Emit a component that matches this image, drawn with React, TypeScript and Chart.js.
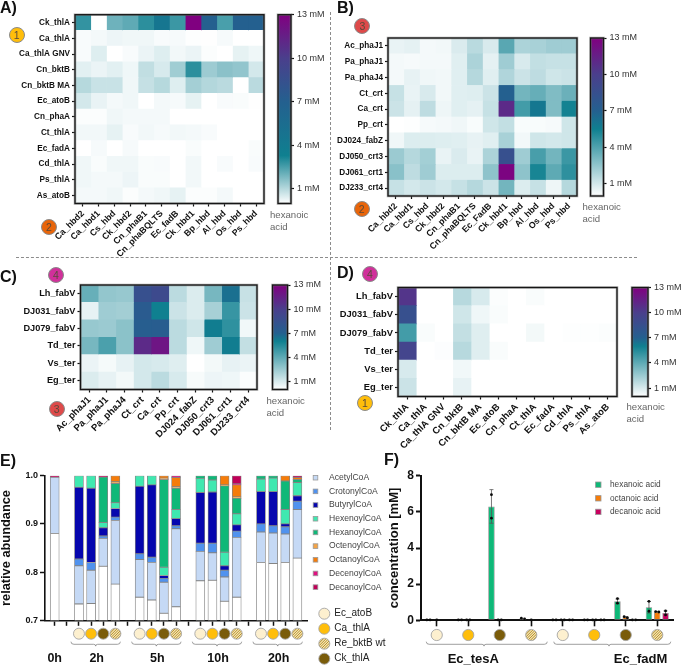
import React, { useEffect, useRef } from "react";
import { Chart, registerables } from "chart.js";

Chart.register(...registerables);

const FONT = '"Liberation Sans", Arial, Helvetica, sans-serif';
const W = 685;
const H = 665;

// ---------- heat map labels ----------
const enzymes1 = ["Ck_thlA", "Ca_thlA", "Ca_thlA GNV", "Cn_bktB", "Cn_bktB MA", "Ec_atoB", "Cn_phaA", "Ct_thlA", "Ec_fadA", "Cd_thlA", "Ps_thlA", "As_atoB"];
const enzymes2A = ["Ca_hbd2", "Ca_hbd1", "Cs_hbd", "Ck_hbd2", "Cn_phaB1", "Cn_phaBQLTS", "Ec_fadB", "Ck_hbd1", "Bp_hbd", "Al_hbd", "Os_hbd", "Ps_hbd"];
const enzymes2B = ["Ca_hbd2", "Ca_hbd1", "Cs_hbd", "Ck_hbd2", "Cn_phaB1", "Cn_phaBQLTS", "Ec_FadB", "Ck_hbd1", "Bp_hbd", "Al_hbd", "Os_hbd", "Ps_hbd"];
const enzymes3 = ["Ac_phaJ1", "Pa_phaJ1", "Pa_phaJ4", "Ct_crt", "Ca_crt", "Pp_crt", "DJ024_fabZ", "DJ050_crt3", "DJ061_crt1", "DJ233_crt4"];
const enzymes4 = ["Lh_fabV", "DJ031_fabV", "DJ079_fabV", "Td_ter", "Vs_ter", "Eg_ter"];

// ---------- heat map values (mM hexanoic acid) ----------
const valuesA = [
  [2.8, 0, 2.0, 2.2, 2.9, 4.5, 2.7, 13, 7, 2.5, 7, 7],
  [0.1, 0.15, 0.25, 0.2, 0.2, 0.1, 0.12, 0.03, 0.02, 0.12, 0, 0],
  [0.1, 0.45, 0, 0.1, 0.28, 0.45, 0.18, 0.28, 0.05, 0, 0.35, 0.22],
  [0.4, 0.28, 0.4, 0.22, 0.85, 0.55, 1.3, 2.9, 1.35, 1.6, 1.5, 0.6],
  [1.0, 0.75, 0.75, 0.2, 0.8, 1.0, 0.45, 1.25, 1.05, 0.95, 0, 0.95],
  [0.6, 0.3, 0.15, 0.2, 0, 0.15, 0.12, 0.35, 0, 0.1, 0.08, 0.02],
  [0.06, 0.06, 0.2, 0.15, 0.15, 0.15, 0, 0, 0, 0, 0, 0],
  [0.18, 0.18, 0.35, 0.1, 0.18, 0.12, 0.18, 0.15, 0.1, 0, 0, 0],
  [0, 0.12, 0, 0.12, 0, 0, 0, 0.08, 0, 0, 0, 0.08],
  [0.2, 0.08, 0.2, 0.2, 0.08, 0.1, 0, 0.18, 0, 0.1, 0, 0.1],
  [0.2, 0.15, 0.15, 0.25, 0.08, 0.08, 0, 0.18, 0, 0, 0, 0],
  [0.15, 0.15, 0.2, 0.05, 0.15, 0.2, 0.35, 0.06, 0.06, 0.15, 0, 0],
];
const valuesB = [
  [0.5, 0.6, 0.25, 0.3, 0.85, 1.6, 0.9, 3.8, 1.9, 2.0, 2.2, 2.2],
  [0.25, 0.2, 0.25, 0.25, 0.7, 1.9, 0.6, 2.2, 0.9, 1.4, 1.3, 1.3],
  [0.25, 0.55, 0.35, 0.3, 0.7, 1.7, 0.7, 1.8, 1.2, 1.5, 1.1, 1.2],
  [1.3, 0.5, 0.9, 0.3, 0.7, 0.75, 1.2, 7, 3.2, 3.5, 2.9, 3.4],
  [1.2, 0.6, 1.5, 0.4, 0.7, 0.6, 1.3, 11, 4.3, 5.9, 2.9, 5.4],
  [0, 0.05, 0.2, 0.25, 0.35, 0.15, 1.1, 1.4, 0.15, 0.15, 0.2, 1.1],
  [0.35, 0.8, 0.8, 0.75, 0.7, 0.55, 0.7, 2.0, 0.3, 1.1, 1.0, 1.1],
  [2.3, 1.7, 2.1, 0.5, 0.85, 0.5, 1.9, 8.5, 2.2, 4.2, 3.2, 4.5],
  [2.7, 1.5, 2.2, 0.8, 0.8, 0.8, 2.6, 12.8, 2.6, 5.3, 3.7, 4.8],
  [1.3, 1.0, 1.2, 1.0, 1.3, 1.7, 1.2, 3.2, 0.8, 1.3, 0.4, 1.7],
];
const valuesC = [
  [3.8, 2.7, 2.6, 8.5, 9, 1.7, 0.9, 3.4, 6.5, 1.4],
  [0.6, 2.4, 2.3, 7.5, 6, 1.3, 0.9, 2.2, 5, 1.3],
  [2.6, 2.5, 2.9, 7.2, 7.3, 1.7, 1.2, 6.1, 5.2, 0.35],
  [3.4, 4.5, 2.9, 11, 12, 1.7, 0.4, 2.4, 6.1, 1.5],
  [0.5, 0.25, 0.6, 1.1, 1.0, 0.8, 0, 0.3, 0.6, 0.5],
  [0.9, 0.6, 0.3, 1.1, 1.7, 1.0, 0.2, 0.45, 0.4, 0.1],
];
const valuesD = [
  [10.5, 0, 0, 1.8, 1.0, 0.1, 0, 0.15, 0, 0, 0, 0],
  [8.5, 0, 0, 1.2, 0.4, 0.15, 0, 0, 0, 0, 0, 0],
  [4.7, 0.15, 0, 1.5, 0.8, 0, 0, 0.3, 0, 0.05, 0.05, 0.1],
  [9.5, 0, 0.08, 1.8, 0.8, 0.15, 0, 0, 0, 0, 0, 0],
  [1, 0, 0, 0.35, 0, 0, 0, 0, 0, 0, 0, 0],
  [1.3, 0, 0, 0.6, 0, 0, 0, 0, 0, 0, 0, 0],
];
const colorbarTicks = [1, 4, 7, 10, 13];

// ---------- panel E ----------
const barSlots = [0, 2, 3, 4, 5, 7, 8, 9, 10, 12, 13, 14, 15, 17, 18, 19, 20];
const allSlots = [0, 1, 2, 3, 4, 5, 6, 7, 8, 9, 10, 11, 12, 13, 14, 15, 16, 17, 18, 19, 20];
const timeGroups = [
  { label: "2h", first: 2, last: 5 },
  { label: "5h", first: 7, last: 10 },
  { label: "10h", first: 12, last: 15 },
  { label: "20h", first: 17, last: 20 },
];
// cumulative top of each species in each bar
const topOther = [0.88, 0.734, 0.735, 0.812, 0.775, 0.748, 0.742, 0.7145, 0.728, 0.782, 0.783, 0.7395, 0.748, 0.82, 0.818, 0.82, 0.829];
const topAcetyl = [0.9965, 0.813, 0.804, 0.87, 0.907, 0.826, 0.82, 0.779, 0.89, 0.843, 0.84, 0.79, 0.872, 0.883, 0.881, 0.879, 0.93];
const topCrotonyl = [0.9965, 0.827, 0.82, 0.875, 0.914, 0.838, 0.831, 0.787, 0.896, 0.86, 0.86, 0.804, 0.885, 0.9, 0.896, 0.894, 0.947];
const topButyryl = [0.9965, 0.976, 0.974, 0.892, 0.932, 0.978, 0.981, 0.793, 0.911, 0.965, 0.966, 0.813, 0.898, 0.967, 0.967, 0.9, 0.9585];
const topHexenoyl = [0.9965, 1, 1, 0.903, 0.944, 1, 1, 0.81, 0.93, 0.9945, 0.991, 0.841, 0.921, 0.993, 0.995, 0.93, 0.986];
const topHexanoyl = [0.9965, 1, 1, 0.997, 0.984, 1, 1, 0.992, 0.974, 1, 1, 0.979, 0.953, 1, 1, 0.989, 0.992];
const topOctenoyl = [0.9965, 1, 1, 0.997, 0.9875, 1, 1, 0.995, 0.977, 1, 1, 0.981, 0.956, 1, 1, 0.989, 0.992];
const topOctanoyl = [0.9965, 1, 1, 0.997, 1, 1, 1, 1, 0.996, 1, 1, 1, 0.981, 1, 1, 1, 0.996];
const topDecenoyl = [0.9965, 1, 1, 0.997, 1, 1, 1, 1, 1, 1, 1, 1, 0.983, 1, 1, 1, 0.996];
const topDecanoyl = [1, 1, 1, 1, 1, 1, 1, 1, 1, 1, 1, 1, 1, 1, 1, 1, 1];
const coaNames = ["AcetylCoA", "CrotonylCoA", "ButyrylCoA", "HexenoylCoA", "HexanoylCoA", "OctenoylCoA", "OctanoylCoA", "DecenoylCoA", "DecanoylCoA"];
const coaTops = [topAcetyl, topCrotonyl, topButyryl, topHexenoyl, topHexanoyl, topOctenoyl, topOctanoyl, topDecenoyl, topDecanoyl];
const coaColors = ["#c5d9f5", "#5092ee", "#0606ae", "#3fe8b0", "#0fb878", "#f5a445", "#f57c0a", "#e01080", "#c00058"];
const abundanceTicks = [0.7, 0.8, 0.9, 1.0];
const strainNames = ["Ec_atoB", "Ca_thlA", "Re_bktB wt", "Ck_thlA"];
const strainOrder = ["Ec_atoB", "Ca_thlA", "Ck_thlA", "Re_bktB wt"];

// ---------- panel F ----------
const acidCategories = ["tesA Ec_atoB", "tesA Ca_thlA", "tesA Ck_thlA", "tesA Re_bktB", "fadM Ec_atoB", "fadM Ca_thlA", "fadM Ck_thlA", "fadM Re_bktB"];
const hexanoic = [0.03, 0.03, 6.3, 0.1, 0.02, 0.02, 1.05, 0.72];
const octanoic = [0.02, 0.02, 0.03, 0.02, 0.02, 0.02, 0.17, 0.47];
const decanoic = [0, 0, 0, 0, 0.02, 0.02, 0.03, 0.41];
const hexanoicError = [0, 0, 0.93, 0, 0, 0, 0.13, 0.32];
const octanoicError = [0, 0, 0, 0, 0, 0, 0.03, 0.01];
const decanoicError = [0, 0, 0, 0, 0, 0, 0.01, 0.11];
const hexanoicReps = [[0.02, 0.02], [0.02, 0.02], [6.95, 5.65], [0.12, 0.08], [0.02, 0.02], [0.02, 0.02], [1.2, 0.95], [1.05, 0.5]];
const octanoicReps = [[0.02], [0.02, 0.02], [0.02, 0.02], [0.02], [0.02, 0.02], [0.02, 0.02], [0.2, 0.14], [0.48, 0.46]];
const decanoicReps = [[], [], [], [], [0.02, 0.02], [0.02, 0.02], [0.02, 0.02], [0.52, 0.3]];
const acidTicks = [0, 2, 4, 6, 8];

// ---------- colour map ----------
type RGB = [number, number, number];
function stopsFor(teal: number): [number, RGB][] {
  return [
    [0, [255, 255, 255]],
    [teal, [15, 128, 144]],
    [7, [36, 96, 143]],
    [10, [74, 63, 140]],
    [13, [128, 0, 128]],
  ];
}
function colorAt(v: number, teal: number): string {
  const s = stopsFor(teal);
  for (let i = 1; i < s.length; i++) {
    if (v <= s[i][0]) {
      const f = (v - s[i - 1][0]) / (s[i][0] - s[i - 1][0]);
      const c = s[i - 1][1].map((a, k) => Math.round(a + (s[i][1][k] - a) * f));
      return `rgb(${c[0]},${c[1]},${c[2]})`;
    }
  }
  return "rgb(128,0,128)";
}

type Box = { l: number; t: number; r: number; b: number };
const setWidth = (w: number) => (s: any) => { s.width = w; };
const setHeight = (h: number) => (s: any) => { s.height = h; };
const tickGrid = (len: number, w: number) => ({
  display: true, drawOnChartArea: false, drawTicks: true, tickLength: len, tickWidth: w, tickColor: "#111", offset: false,
});

const framePlugin = {
  id: "frame",
  afterDatasetsDraw(chart: any) {
    const { ctx, chartArea: a } = chart;
    ctx.save();
    ctx.strokeStyle = "rgba(120,120,120,0.55)";
    ctx.lineWidth = 2.6;
    ctx.strokeRect(a.left, a.top, a.right - a.left, a.bottom - a.top);
    ctx.strokeStyle = "#161616";
    ctx.lineWidth = 1.3;
    ctx.strokeRect(a.left, a.top, a.right - a.left, a.bottom - a.top);
    ctx.restore();
  },
};

function heatConfig(rows: string[], cols: string[], values: number[][], teal: number, box: Box, fontY: number, fontX: number): any {
  return {
    type: "bar",
    data: {
      labels: rows,
      datasets: cols.map((name, c) => ({
        label: name,
        data: rows.map(() => [c, c + 1]),
        backgroundColor: rows.map((_, r) => colorAt(values[r][c], teal)),
        borderWidth: 0,
        barPercentage: 1,
        categoryPercentage: 1,
        grouped: false,
      })),
    },
    options: {
      indexAxis: "y",
      responsive: false,
      animation: false,
      layout: { padding: { left: 0, top: box.t, right: W - box.r, bottom: 0 } },
      plugins: { legend: { display: false }, tooltip: { enabled: false } },
      scales: {
        y: {
          type: "category",
          offset: true,
          afterFit: setWidth(box.l),
          grid: tickGrid(3, 1.2),
          border: { display: false },
          ticks: { autoSkip: false, padding: 2, color: "#111", font: { family: FONT, size: fontY, weight: "bold" } },
        },
        x: {
          type: "linear",
          offset: false,
          min: 0,
          max: cols.length,
          afterFit: setHeight(H - box.b),
          afterBuildTicks: (s: any) => { s.ticks = cols.map((_, i) => ({ value: i + 0.5 })); },
          grid: tickGrid(3, 1.2),
          border: { display: false },
          ticks: {
            autoSkip: false, minRotation: 45, maxRotation: 45, padding: 2, color: "#111",
            font: { family: FONT, size: fontX, weight: "bold" },
            callback: (v: number) => cols[Math.round(v - 0.5)],
          },
        },
      },
    },
    plugins: [framePlugin],
  };
}

function colorbarConfig(teal: number, box: Box): any {
  return {
    type: "bar",
    data: {
      labels: ["hexanoic acid"],
      datasets: [{
        label: "scale",
        data: [[0, 13]],
        barPercentage: 1,
        categoryPercentage: 1,
        borderWidth: 0,
        backgroundColor: (c: any) => {
          const a = c.chart.chartArea;
          if (!a) return "#fff";
          const g = c.chart.ctx.createLinearGradient(0, a.bottom, 0, a.top);
          stopsFor(teal).forEach(([v, col]) => g.addColorStop(v / 13, `rgb(${col[0]},${col[1]},${col[2]})`));
          return g;
        },
      }],
    },
    options: {
      responsive: false,
      animation: false,
      layout: { padding: { left: box.l, top: box.t, right: 0, bottom: H - box.b } },
      plugins: { legend: { display: false }, tooltip: { enabled: false } },
      scales: {
        x: { display: false },
        y: {
          position: "right",
          min: 0,
          max: 13,
          afterFit: setWidth(W - box.r),
          afterBuildTicks: (s: any) => { s.ticks = colorbarTicks.map((value) => ({ value })); },
          grid: tickGrid(3, 1.2),
          border: { display: false },
          ticks: { padding: 3, color: "#333", font: { family: FONT, size: 9 }, callback: (v: number) => `${v} mM` },
        },
      },
    },
    plugins: [framePlugin],
  };
}

// ---------- strain markers ----------
const strainFill: Record<string, string> = { "Ec_atoB": "#fdf0cf", "Ca_thlA": "#ffbe0b", "Ck_thlA": "#7a5c0a", "Re_bktB wt": "#f4e4b4" };
function drawMarker(ctx: CanvasRenderingContext2D, x: number, y: number, r: number, strain: string) {
  ctx.save();
  ctx.beginPath();
  ctx.arc(x, y, r, 0, Math.PI * 2);
  ctx.fillStyle = strainFill[strain];
  ctx.fill();
  if (strain === "Re_bktB wt") {
    ctx.save();
    ctx.clip();
    ctx.strokeStyle = "#b8912a";
    ctx.lineWidth = 1;
    for (let d = -2 * r; d <= 2 * r; d += 2.6) {
      ctx.beginPath();
      ctx.moveTo(x + d - r, y + r);
      ctx.lineTo(x + d + r, y - r);
      ctx.stroke();
    }
    ctx.restore();
    ctx.beginPath();
    ctx.arc(x, y, r, 0, Math.PI * 2);
  }
  ctx.strokeStyle = "#a5a5a5";
  ctx.lineWidth = 0.9;
  ctx.stroke();
  ctx.restore();
}
function drawBrace(ctx: CanvasRenderingContext2D, x0: number, x1: number, mid: number, y: number) {
  ctx.save();
  ctx.strokeStyle = "#777";
  ctx.lineWidth = 0.7;
  ctx.beginPath();
  ctx.moveTo(x0, y);
  ctx.quadraticCurveTo(x0, y + 2.6, x0 + 3, y + 2.6);
  ctx.lineTo(mid - 2, y + 2.6);
  ctx.quadraticCurveTo(mid, y + 2.6, mid, y + 4.4);
  ctx.quadraticCurveTo(mid, y + 2.6, mid + 2, y + 2.6);
  ctx.lineTo(x1 - 3, y + 2.6);
  ctx.quadraticCurveTo(x1, y + 2.6, x1, y);
  ctx.stroke();
  ctx.restore();
}
function drawLabel(ctx: CanvasRenderingContext2D, t: string, x: number, y: number, font: string, color: string, align: CanvasTextAlign = "center") {
  ctx.save();
  ctx.font = font;
  ctx.fillStyle = color;
  ctx.textAlign = align;
  ctx.textBaseline = "middle";
  ctx.fillText(t, x, y);
  ctx.restore();
}
function drawSwatchLegend(ctx: CanvasRenderingContext2D, items: { label: string; color: string }[], sx: number, tx: number, y0: number, dy: number, size: number, fs: number) {
  items.forEach((it, i) => {
    const y = y0 + i * dy;
    ctx.save();
    ctx.fillStyle = it.color;
    ctx.strokeStyle = "#999";
    ctx.lineWidth = 0.8;
    ctx.fillRect(sx - size / 2, y - size / 2, size, size);
    ctx.strokeRect(sx - size / 2, y - size / 2, size, size);
    ctx.restore();
    drawLabel(ctx, it.label, tx, y, `${fs}px ${FONT}`, "#444", "left");
  });
}

const panelEPlugin = {
  id: "panelE",
  afterDraw(chart: any) {
    const { ctx, scales } = chart;
    const x = scales.x;
    drawLabel(ctx, "0h", x.getPixelForValue(0), 659, `bold 12.5px ${FONT}`, "#111");
    timeGroups.forEach((g) => {
      strainOrder.forEach((s, i) => drawMarker(ctx, x.getPixelForValue(g.first + i), 633.7, 5.5, s));
      const a = x.getPixelForValue(g.first);
      const b = x.getPixelForValue(g.last);
      drawBrace(ctx, a - 8, b + 5, (a + b) / 2 - 1.5, 641.7);
      drawLabel(ctx, g.label, (a + b) / 2 - 0.5, 659, `bold 12.5px ${FONT}`, "#111");
    });
    drawSwatchLegend(ctx, coaNames.map((label, i) => ({ label, color: coaColors[i] })), 315.5, 329, 477.7, 13.68, 4.6, 8.6);
    strainNames.forEach((s, i) => {
      drawMarker(ctx, 324.3, 613.7 + i * 15, 5.5, s);
      drawLabel(ctx, s, 334.3, 613.7 + i * 15, `10px ${FONT}`, "#222", "left");
    });
  },
};

const panelFPlugin = {
  id: "panelF",
  afterDatasetsDraw(chart: any) {
    const { ctx, scales } = chart;
    const y = scales.y;
    chart.data.datasets.forEach((ds: any, di: number) => {
      const meta = chart.getDatasetMeta(di);
      meta.data.forEach((bar: any, i: number) => {
        const err = ds.errors[i];
        if (err > 0) {
          const hi = y.getPixelForValue(ds.data[i] + err);
          const lo = y.getPixelForValue(ds.data[i] - err);
          ctx.save();
          ctx.strokeStyle = "#555";
          ctx.lineWidth = 0.8;
          ctx.beginPath();
          ctx.moveTo(bar.x, hi); ctx.lineTo(bar.x, lo);
          ctx.moveTo(bar.x - 2, hi); ctx.lineTo(bar.x + 2, hi);
          ctx.moveTo(bar.x - 2, lo); ctx.lineTo(bar.x + 2, lo);
          ctx.stroke();
          ctx.restore();
        }
        const reps: number[] = ds.replicates[i];
        const close = reps.length === 2 && Math.abs(y.getPixelForValue(reps[0]) - y.getPixelForValue(reps[1])) < 2.5;
        reps.forEach((v, k) => {
          ctx.save();
          ctx.fillStyle = "#0a0a0a";
          ctx.beginPath();
          ctx.arc(bar.x + (close ? (k === 0 ? -1.6 : 1.6) : 0), y.getPixelForValue(v), 1.4, 0, Math.PI * 2);
          ctx.fill();
          ctx.restore();
        });
      });
    });
  },
  afterDraw(chart: any) {
    const { ctx, scales } = chart;
    const x = scales.x;
    acidCategories.forEach((_, i) => drawMarker(ctx, x.getPixelForValue(i), 635, 5.6, strainOrder[i % 4]));
    drawBrace(ctx, x.getPixelForValue(0) - 10.5, x.getPixelForValue(3) + 16, x.getPixelForValue(1.5), 641.7);
    drawBrace(ctx, x.getPixelForValue(4) - 9, x.getPixelForValue(7) + 13.5, x.getPixelForValue(5.5) - 1, 641.7);
    drawLabel(ctx, "Ec_tesA", 473.3, 659, `bold 13px ${FONT}`, "#111");
    drawLabel(ctx, "Ec_fadM", 640.5, 659, `bold 13px ${FONT}`, "#111");
    drawSwatchLegend(ctx, chart.data.datasets.map((d: any) => ({ label: d.label, color: d.backgroundColor })), 598.3, 610, 484.7, 13.6, 5.4, 8.3);
  },
};

function abundanceConfig(): any {
  const tops = [topOther, ...coaTops];
  const names = ["Remainder", ...coaNames];
  const colors = ["#ffffff", ...coaColors];
  return {
    type: "bar",
    data: {
      labels: barSlots,
      datasets: tops.map((top, s) => ({
        label: names[s],
        data: top.map((t, b) => {
          const lo = s === 0 ? 0 : tops[s - 1][b];
          return t > lo ? [lo, t] : null;
        }),
        backgroundColor: colors[s],
        borderColor: "#858585",
        borderWidth: 0.8,
        borderSkipped: false,
        barThickness: 9,
        grouped: false,
      })),
    },
    options: {
      responsive: false,
      animation: false,
      layout: { padding: { left: 0, top: 475.7, right: W - 307.7, bottom: 0 } },
      plugins: { legend: { display: false }, tooltip: { enabled: false } },
      scales: {
        x: {
          type: "linear",
          offset: false,
          min: -0.8,
          max: 20.85,
          afterFit: setHeight(H - 620.3),
          afterBuildTicks: (s: any) => { s.ticks = allSlots.map((value) => ({ value })); },
          grid: tickGrid(5.5, 1.5),
          border: { display: true, color: "#111", width: 1.6 },
          ticks: { display: false },
        },
        y: {
          min: 0.7,
          max: 1.0,
          afterFit: setWidth(45),
          afterBuildTicks: (s: any) => { s.ticks = abundanceTicks.map((value) => ({ value })); },
          grid: tickGrid(5, 1.5),
          border: { display: true, color: "#111", width: 1.6 },
          title: { display: true, text: "relative abundance", color: "#111", padding: 0, font: { family: FONT, size: 12.8, weight: "bold", lineHeight: 1 } },
          ticks: { padding: 2, color: "#111", font: { family: FONT, size: 9, weight: "bold" }, callback: (v: number) => v.toFixed(1) },
        },
      },
    },
    plugins: [panelEPlugin],
  };
}

function acidConfig(): any {
  const series = [
    { label: "hexanoic acid", data: hexanoic, errors: hexanoicError, replicates: hexanoicReps, backgroundColor: "#0fb878" },
    { label: "octanoic acid", data: octanoic, errors: octanoicError, replicates: octanoicReps, backgroundColor: "#f57c0a" },
    { label: "decanoic acid", data: decanoic, errors: decanoicError, replicates: decanoicReps, backgroundColor: "#c8005f" },
  ];
  return {
    type: "bar",
    data: {
      labels: acidCategories,
      datasets: series.map((d) => ({ ...d, borderColor: "#8a8a8a", borderWidth: 0.8, borderSkipped: false, barPercentage: 0.78, categoryPercentage: 0.79 })),
    },
    options: {
      responsive: false,
      animation: false,
      layout: { padding: { left: 388, top: 475.7, right: W - 673, bottom: 0 } },
      plugins: { legend: { display: false }, tooltip: { enabled: false } },
      scales: {
        x: {
          type: "category",
          offset: true,
          afterFit: setHeight(H - 620.3),
          grid: tickGrid(6, 1.6),
          border: { display: true, color: "#111", width: 2 },
          ticks: { display: false, autoSkip: false },
        },
        y: {
          min: 0,
          max: 8,
          afterFit: setWidth(33),
          afterBuildTicks: (s: any) => { s.ticks = acidTicks.map((value) => ({ value })); },
          grid: tickGrid(5, 2),
          border: { display: true, color: "#111", width: 2 },
          title: { display: true, text: "concentration [mM]", color: "#111", padding: 0, font: { family: FONT, size: 13, weight: "bold", lineHeight: 1 } },
          ticks: { padding: 2, color: "#111", font: { family: FONT, size: 12, weight: "bold" } },
        },
      },
    },
    plugins: [panelFPlugin],
  };
}

// ---------- page furniture ----------
const panelLetters = [
  { t: "A)", x: 0, y: 0 },
  { t: "B)", x: 337, y: 0 },
  { t: "C)", x: 0, y: 269 },
  { t: "D)", x: 337, y: 265 },
  { t: "E)", x: 0, y: 453 },
  { t: "F)", x: 384, y: 452 },
];
const badges = [
  { n: "1", x: 16.7, y: 35, c: "#ffbe0b" },
  { n: "2", x: 49, y: 226.7, c: "#e8650a" },
  { n: "3", x: 362.3, y: 25.7, c: "#de4a4a" },
  { n: "2", x: 361.7, y: 209.3, c: "#e8650a" },
  { n: "4", x: 56, y: 275, c: "#d0309a" },
  { n: "3", x: 56.7, y: 409.3, c: "#de4a4a" },
  { n: "4", x: 370, y: 273.7, c: "#d0309a" },
  { n: "1", x: 365, y: 403, c: "#ffbe0b" },
];
const acidNotes = [
  { x: 270, y: 209 },
  { x: 582.5, y: 201 },
  { x: 266.5, y: 395 },
  { x: 626.5, y: 401 },
];

const configs = () => [
  heatConfig(enzymes1, enzymes2A, valuesA, 3.3, { l: 75, t: 14.7, r: 264, b: 203.5 }, 8.2, 8.8),
  colorbarConfig(3.3, { l: 278, t: 14.7, r: 291, b: 203.5 }),
  heatConfig(enzymes3, enzymes2B, valuesB, 5.5, { l: 388, t: 38, r: 577, b: 196 }, 8.2, 8.8),
  colorbarConfig(5.5, { l: 590.5, t: 38, r: 603.5, b: 196 }),
  heatConfig(enzymes4, enzymes3, valuesC, 6, { l: 80.5, t: 285, r: 257, b: 389.5 }, 9.2, 9.5),
  colorbarConfig(6, { l: 272.5, t: 285, r: 287.5, b: 389.5 }),
  heatConfig(enzymes4, enzymes1, valuesD, 6, { l: 398, t: 287.5, r: 617, b: 396.5 }, 9.4, 9.5),
  colorbarConfig(6, { l: 632, t: 287.5, r: 648, b: 396.5 }),
  abundanceConfig(),
  acidConfig(),
];

const abs = (s: React.CSSProperties): React.CSSProperties => ({ position: "absolute", ...s });

export default function App() {
  const refs = useRef<(HTMLCanvasElement | null)[]>([]);
  const count = 10;
  useEffect(() => {
    const charts = configs().map((cfg, i) => new Chart(refs.current[i] as HTMLCanvasElement, cfg));
    return () => charts.forEach((c) => c.destroy());
  }, []);
  return (
    <div style={abs({ left: 0, top: 0, width: W, height: H, overflow: "hidden", background: "#fff", fontFamily: FONT })}>
      {Array.from({ length: count }, (_, i) => (
        <canvas key={i} ref={(el) => { refs.current[i] = el; }} width={W} height={H} style={abs({ left: 0, top: 0, width: W, height: H })} />
      ))}
      {panelLetters.map((p) => (
        <div key={p.t} style={abs({ left: p.x, top: p.y, fontWeight: "bold", fontSize: 16, lineHeight: "16px", color: "#111" })}>{p.t}</div>
      ))}
      {badges.map((b, i) => (
        <div key={i} style={abs({ left: b.x - 8, top: b.y - 8, width: 16, height: 16, boxSizing: "border-box", borderRadius: "50%", background: b.c, border: "0.8px solid #8a8a8a", textAlign: "center", fontSize: 10.5, lineHeight: "14.5px", color: "#5a4a3a" })}>{b.n}</div>
      ))}
      {acidNotes.map((n, i) => (
        <div key={i} style={abs({ left: n.x, top: n.y, fontSize: 9.6, lineHeight: "12px", color: "#666" })}>hexanoic<br />acid</div>
      ))}
      <div style={abs({ left: 16, top: 256.5, width: 621, height: 0, borderTop: "1px dashed #8c8c8c" })} />
      <div style={abs({ left: 329.5, top: 12, width: 0, height: 418, borderLeft: "1px dashed #8c8c8c" })} />
    </div>
  );
}
